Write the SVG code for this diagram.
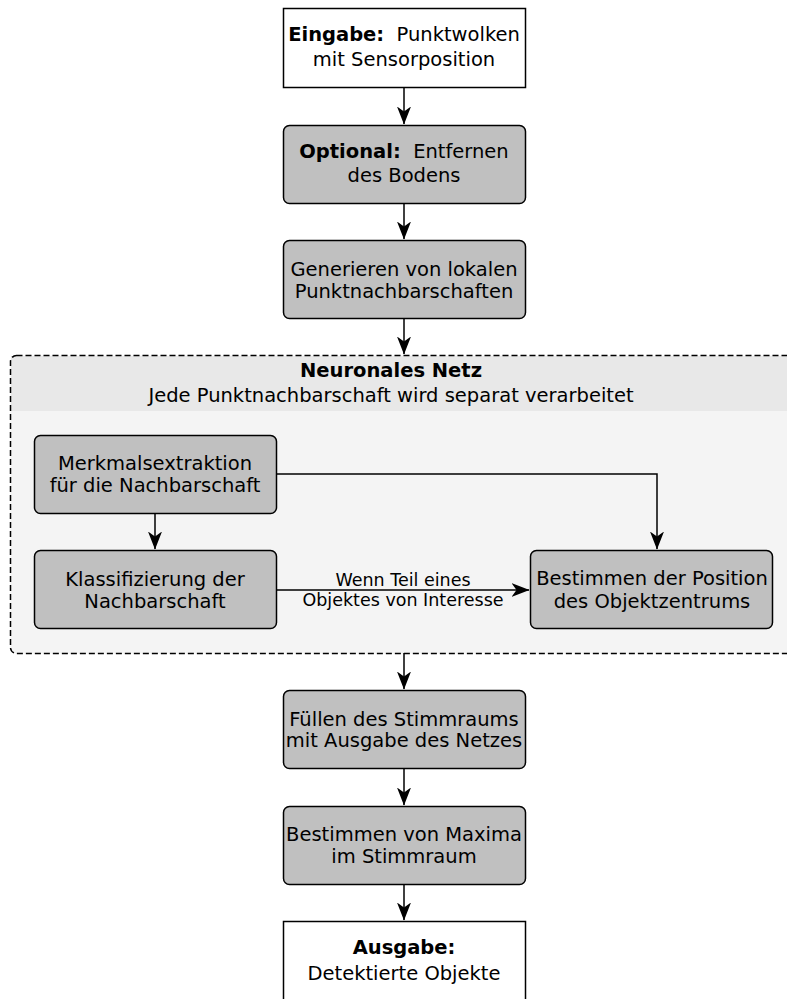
<svg xmlns="http://www.w3.org/2000/svg" width="787" height="999" viewBox="0 0 787 999">
<style>
text{font-family:"DejaVu Sans",sans-serif;font-size:19.5px;fill:#000;text-anchor:middle}
.b{font-weight:bold}
.box{fill:#c0c0c0;stroke:#000;stroke-width:1.5}
.io{fill:#fff;stroke:#000;stroke-width:1.5}
.c{fill:none;stroke:#000;stroke-width:1.5}
.lbl{font-size:17.5px}
</style>
<defs>
<marker id="ah" viewBox="0 0 18 14" refX="17.5" refY="7" markerWidth="18" markerHeight="14" markerUnits="userSpaceOnUse" orient="auto">
<path d="M0,0 L18,7 L0,14 L5,7 Z" fill="#000"/>
</marker>
</defs>
<rect width="787" height="999" fill="#fff"/>
<g id="container">
<rect x="10.5" y="355.5" width="790" height="298" rx="6" fill="#f4f4f4"/>
<path d="M11,356 H800 V411 H11 Z" fill="#e8e8e8"/>
<rect x="10.5" y="355.5" width="790" height="298" rx="6" fill="none" stroke="#000" stroke-width="1.5" stroke-dasharray="6,3"/>
<text x="391" y="377" class="b">Neuronales Netz</text>
<text x="391" y="402">Jede Punktnachbarschaft wird separat verarbeitet</text>
</g>
<g id="connectors">
<path class="c" d="M404,87 V124" marker-end="url(#ah)"/>
<path class="c" d="M404,203 V239" marker-end="url(#ah)"/>
<path class="c" d="M404,318 V354" marker-end="url(#ah)"/>
<path class="c" d="M155,513 V549" marker-end="url(#ah)"/>
<path class="c" d="M277,474 H657 V549" marker-end="url(#ah)"/>
<path class="c" d="M277,590 H529" marker-end="url(#ah)"/>
<path class="c" d="M404,653 V689" marker-end="url(#ah)"/>
<path class="c" d="M404,768 V805" marker-end="url(#ah)"/>
<path class="c" d="M404,884 V920" marker-end="url(#ah)"/>
<text x="403" y="585.5" class="lbl">Wenn Teil eines</text>
<text x="403" y="605.5" class="lbl">Objektes von Interesse</text>
</g>
<g id="n1">
<rect class="io" x="283.5" y="8.5" width="242" height="79"/>
<text x="404" y="41"><tspan class="b">Eingabe:</tspan>&#160; Punktwolken</text>
<text x="404" y="66">mit Sensorposition</text>
</g>
<g id="n2">
<rect class="box" x="283.5" y="125.5" width="242" height="78" rx="6"/>
<text x="404" y="157.5"><tspan class="b">Optional:</tspan>&#160; Entfernen</text>
<text x="404" y="181.5">des Bodens</text>
</g>
<g id="n3">
<rect class="box" x="283.5" y="240.5" width="242" height="78" rx="6"/>
<text x="404" y="275.5">Generieren von lokalen</text>
<text x="404" y="297.5">Punktnachbarschaften</text>
</g>
<g id="n4">
<rect class="box" x="34.5" y="435.5" width="242" height="78" rx="6"/>
<text x="155" y="469.5">Merkmalsextraktion</text>
<text x="155" y="492">für die Nachbarschaft</text>
</g>
<g id="n5">
<rect class="box" x="34.5" y="550.5" width="242" height="78" rx="6"/>
<text x="155" y="585.5">Klassifizierung der</text>
<text x="155" y="608">Nachbarschaft</text>
</g>
<g id="n6">
<rect class="box" x="530.5" y="550.5" width="242" height="78" rx="6"/>
<text x="652" y="585">Bestimmen der Position</text>
<text x="652" y="607.5">des Objektzentrums</text>
</g>
<g id="n7">
<rect class="box" x="283.5" y="690.5" width="242" height="78" rx="6"/>
<text x="404" y="725.5">Füllen des Stimmraums</text>
<text x="404" y="747">mit Ausgabe des Netzes</text>
</g>
<g id="n8">
<rect class="box" x="283.5" y="806.5" width="242" height="78" rx="6"/>
<text x="404" y="841">Bestimmen von Maxima</text>
<text x="404" y="863">im Stimmraum</text>
</g>
<g id="n9">
<rect class="io" x="283.5" y="921.5" width="242" height="90"/>
<text x="404" y="954" class="b">Ausgabe:</text>
<text x="404" y="979.5">Detektierte Objekte</text>
</g>
</svg>
